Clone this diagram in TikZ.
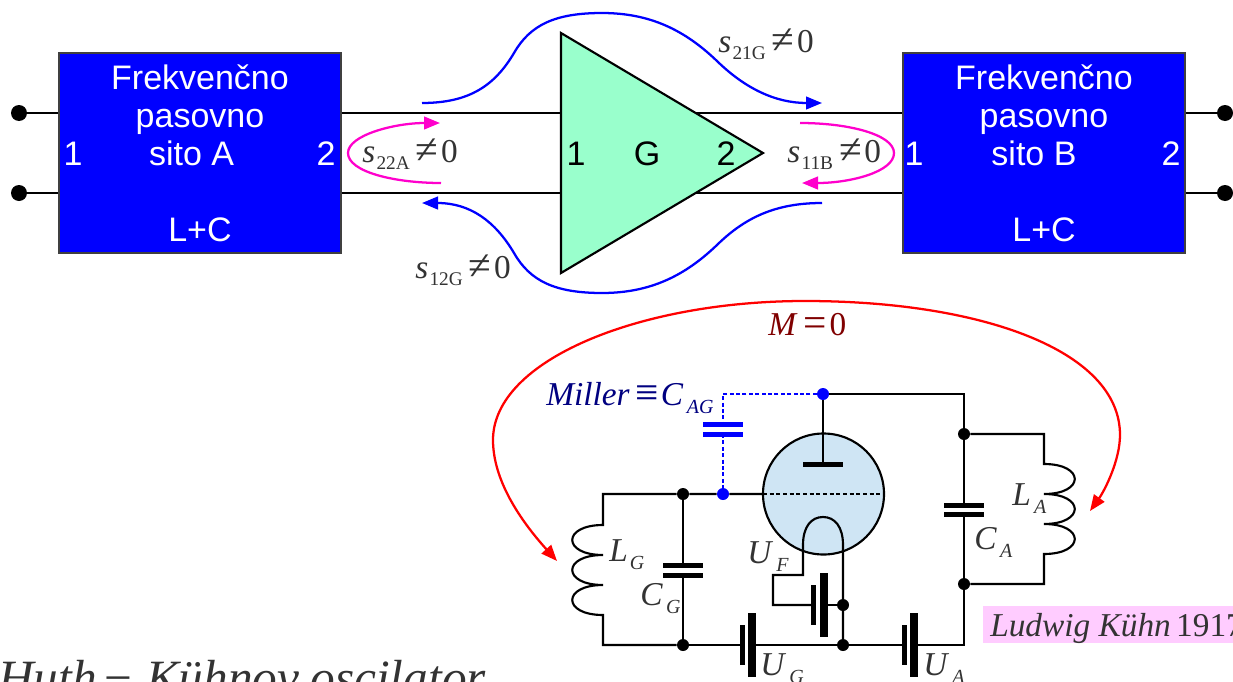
\documentclass[tikz,border=0pt]{standalone}
\usepackage{fontspec}
\setmainfont{Liberation Serif}
\newfontfamily\arialf{Liberation Sans}
\usetikzlibrary{arrows.meta}
\definecolor{mintc}{HTML}{99FFCC}
\definecolor{tubec}{HTML}{CFE5F4}
\definecolor{pinkc}{HTML}{FF00CC}
\definecolor{bgp}{HTML}{FFCCFF}
\definecolor{txt}{HTML}{333333}
\definecolor{darkr}{HTML}{800000}
\definecolor{navyc}{HTML}{000080}
\newcommand{\mathsz}{\fontsize{25}{25}\selectfont}
\newcommand{\subsz}{\fontsize{14.5}{14.5}\selectfont}
\newcommand{\isubsz}{\fontsize{15}{15}\selectfont}
\newcommand{\bigrel}[1]{\raisebox{-1pt}{\fontsize{31}{31}\selectfont #1}}
\newcommand{\isub}[2]{\textit{#1}\kern1.5pt\raisebox{-6pt}{\isubsz\textit{#2}}}
\newcommand{\sparam}[1]{\textit{s}\kern1pt\raisebox{-5.5pt}{\subsz #1}\kern4.5pt\bigrel{≠}\kern2pt0}
\tikzset{
  x=0.75pt,y=-0.75pt,
  wire/.style={line width=1.6pt,black},
  box/.style={draw=black!75,line width=1pt,fill=blue,minimum width=211.5pt,minimum height=150pt,inner sep=0pt},
  sans/.style={font=\arialf\fontsize{25.5}{28.2}\selectfont,inner sep=0pt},
  sansw/.style={sans,white,align=center},
  term/.style={circle,fill=black,minimum size=12pt,inner sep=0pt},
  dot/.style={circle,fill=black,minimum size=9pt,inner sep=0pt},
  bdot/.style={circle,fill=blue,minimum size=9pt,inner sep=0pt},
  lab/.style={anchor=base west,inner sep=0pt,font=\mathsz,text=txt},
  bluec/.style={line width=1.7pt,blue},
  pinkl/.style={line width=1.7pt,pinkc},
  redl/.style={line width=1.7pt,red},
  tip/.style={-{Triangle[length=12pt,width=9.5pt]}},
  tips/.style={{Triangle[length=12pt,width=9.5pt]}-{Triangle[length=12pt,width=9.5pt]}},
}
\begin{document}
\begin{tikzpicture}
\useasboundingbox (0,0) rectangle (1233,682);
% blocks
\node[box] (A) at (200,153) {};
\node[box] (B) at (1044,153) {};
\node[term] (t1) at (19,113) {};
\node[term] (t2) at (19,193) {};
\node[term] (t3) at (1225,113) {};
\node[term] (t4) at (1225,193) {};
\draw[wire] (t1) -- (t1-|A.west);
\draw[wire] (t2) -- (t2-|A.west);
\draw[wire] (t3) -- (t3-|B.east);
\draw[wire] (t4) -- (t4-|B.east);
\draw[wire] (A.east|-t1) -- (B.west|-t1);
\draw[wire] (A.east|-t2) -- (B.west|-t2);
\node[sansw,anchor=base] (at) at (200,165) {Frekvenčno\\pasovno\\sito A\kern12.5pt};
\node[sansw,anchor=base] (bt) at (1044,165) {Frekvenčno\\pasovno\\sito B\kern15pt};
\node[sansw,anchor=base] (a1) at (73,165) {1};
\node[sansw,anchor=base] (a2) at (326,165) {2};
\node[sansw,anchor=base] (b1) at (914,165) {1};
\node[sansw,anchor=base] (b2) at (1171,165) {2};
\node[sansw,anchor=base] (al) at (200,241) {L+C};
\node[sansw,anchor=base] (bl) at (1044,241) {L+C};
% amplifier
\draw[line width=1.6pt,fill=mintc,line join=miter] (561,33) -- (763,153) -- (561,273) -- cycle;
\node[sans,anchor=base] (g1) at (576,165) {1};
\node[sans,anchor=base] (gg) at (647,165) {G};
\node[sans,anchor=base] (g2) at (726,165) {2};
% s-parameter curves
\draw[bluec,tip] (422,103) .. controls (470,103) and (495,85) .. (514,53) .. controls (530,25) and (555,13) .. (602,13) .. controls (650,13) and (685,30) .. (718,62) .. controls (745,88) and (775,103) .. (822,103);
\draw[bluec,tip] (822,203) .. controls (775,203) and (745,218) .. (718,244) .. controls (685,276) and (650,293) .. (602,293) .. controls (555,293) and (530,281) .. (514,253) .. controls (495,221) and (470,203) .. (422,203);
\draw[pinkl,tip] (441,183) .. controls (395,183) and (348,172) .. (348,153) .. controls (348,135) and (395,123) .. (440,123);
\draw[pinkl,tip] (800,123) .. controls (850,123) and (894,135) .. (894,153) .. controls (894,172) and (850,183) .. (802,183);
\node[lab] (s22) at (362,162) {\sparam{22A}};
\node[lab] (s21) at (718,52) {\sparam{21G}};
\node[lab] (s11) at (787,162) {\sparam{11B}};
\node[lab] (s12) at (415,278) {\sparam{12G}};
% feedback
\draw[redl,tips] (557,561) .. controls (520,520) and (493,480) .. (493,440) .. controls (493,360) and (640,301) .. (805,301) .. controls (980,301) and (1120,350) .. (1120,435) .. controls (1120,460) and (1105,490) .. (1090,511);
\node[lab,text=darkr] (mz) at (768,335) {\textit{M}\kern4.5pt\bigrel{=}\kern2pt0};
% tube
\draw[line width=1.6pt,fill=tubec] (823.5,494) circle[radius=60.5];
\coordinate (gl) at (763,494);
\coordinate (gr) at (884,494);
\draw[line width=1.3pt,dash pattern=on 3pt off 2pt] (gl) -- (gr);
\node[bdot] (pa) at (823,394) {};
\node[bdot] (gb) at (723,494) {};
\node[dot] (g0) at (683,494) {};
\node[dot] (g3) at (683,645) {};
\node[dot] (k1) at (843,605) {};
\node[dot] (k2) at (843,645) {};
\node[dot] (a3) at (964,434) {};
\node[dot] (a4) at (964,584) {};
\coordinate (pl) at (823,464);
\draw[wire] (pa) -- (pl);
\fill[black] (803,461.5) rectangle (843,466.5);
% Miller capacitor
\coordinate (mt) at (723,394);
\coordinate (mc1) at (723,424);
\coordinate (mc2) at (723,434);
\draw[blue,line width=1.6pt,dash pattern=on 3pt off 1.8pt] (pa) -- (mt) -- (mc1);
\draw[blue,line width=1.6pt,dash pattern=on 3pt off 1.8pt] (mc2) -- (gb);
\fill[blue] (703,421.5) rectangle (743,427);
\fill[blue] (703,431.5) rectangle (743,437);
% grid circuit
\draw[wire] (gl) -- (gb) -- (g0) -- (603,494) -- (603,525)
  .. controls (562,525) and (562,555) .. (603,555)
  .. controls (562,555) and (562,585) .. (603,585)
  .. controls (562,585) and (562,615) .. (603,615)
  -- (603,645) -- (g3);
\draw[wire] (g0) -- (683,565);
\draw[wire] (683,575) -- (g3);
\fill[black] (663,562.5) rectangle (703,568);
\fill[black] (663,572.5) rectangle (703,578);
\draw[wire] (g3) -- (742,645);
\fill[black] (739.5,625) rectangle (744.5,665);
\fill[black] (748,613) rectangle (756,677);
\draw[wire] (752,645) -- (k2);
% filament
\draw[wire] (843,645) -- (843,545) .. controls (843,527) and (835,517) .. (823,517) .. controls (811,517) and (803,527) .. (803,545) -- (803,575) -- (773,575) -- (773,605) -- (813,605);
\fill[black] (810.5,585) rectangle (815.5,625);
\fill[black] (820,573) rectangle (828,637);
\draw[wire] (824,605) -- (k1);
% anode circuit
\draw[wire] (k2) -- (904,645);
\fill[black] (901.5,625) rectangle (906.5,665);
\fill[black] (910,613) rectangle (918,677);
\draw[wire] (914,645) -- (964,645) -- (a4) -- (964,514);
\draw[wire] (964,505) -- (a3) -- (964,394) -- (pa);
\fill[black] (944,502.5) rectangle (984,508);
\fill[black] (944,511.5) rectangle (984,517);
\draw[wire] (a3) -- (1044,434) -- (1044,464)
  .. controls (1085,464) and (1085,494) .. (1044,494)
  .. controls (1085,494) and (1085,524) .. (1044,524)
  .. controls (1085,524) and (1085,554) .. (1044,554)
  -- (1044,584) -- (a4);
% labels
\node[lab,text=navyc] (mil) at (546,405) {\textit{Miller}\kern4pt\bigrel{≡}\kern2pt\isub{C}{\kern1pt AG}};
\node[lab] (lg) at (609,561) {\isub{L}{G}};
\node[lab] (cg) at (640,605) {\isub{C}{\kern1pt G}};
\node[lab] (uf) at (747,563) {\isub{U}{\kern1pt F}};
\node[lab] (ug) at (760,675) {\isub{U}{\kern1pt G}};
\node[lab] (la) at (1012,505) {\isub{L}{\kern1pt A}};
\node[lab] (ca) at (974,549) {\isub{C}{\kern1pt A}};
\node[lab] (ua) at (923,675) {\isub{U}{\kern1pt A}};
\fill[bgp] (983,606) rectangle (1233,643);
\node[lab] (lk) at (990,636) {\textit{Ludwig Kühn}\kern4pt1917};
\node[lab,font=\fontsize{37}{37}\selectfont] (ti) at (-2,694) {\textit{Huth}\kern6pt−\kern10pt\textit{Kühnov\kern-1pt\ oscilator}};
\end{tikzpicture}
\end{document}
